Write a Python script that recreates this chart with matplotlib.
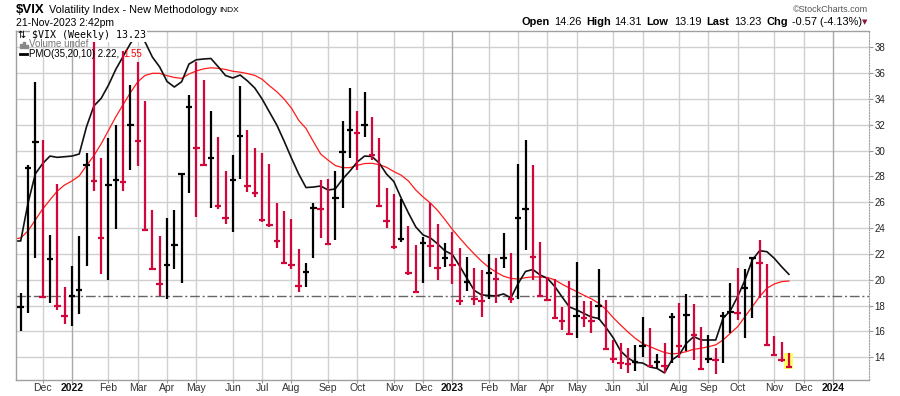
import numpy as np
import pandas as pd
import matplotlib
matplotlib.use("Agg")
import matplotlib.pyplot as plt
import matplotlib.dates as mdates
from matplotlib.patches import Rectangle
from matplotlib.lines import Line2D

plt.rcParams['font.family'] = ['Liberation Sans', 'DejaVu Sans']

# -------- data --------
BAR_START = "2021-11-15"     # Monday of the first weekly bar
PMO_START = "2021-11-08"     # PMO lines start one week earlier (clipped at left edge)

highs = [19.0, 28.9, 35.3, 30.8, 23.5, 27.4, 19.4, 21.1, 23.4, 29.8,
         38.9, 29.45, 31.0, 32.0, 37.7, 35.1, 36.9, 33.85, 25.4, 23.4,
         24.76, 25.4, 28.3, 34.3, 36.9, 35.47, 33.07, 31.08, 28.4, 29.66,
         35.0, 31.6, 30.18, 29.8, 29.0, 25.92, 25.32, 24.7, 22.38, 21.27,
         25.92, 27.73, 27.78, 28.4, 32.32, 34.83, 33.07, 34.54, 32.58, 30.95,
         27.08, 26.62, 26.23, 24.16, 22.69, 23.33, 25.92, 24.29, 22.82, 23.72,
         22.43, 21.74, 20.89, 20.75, 21.97, 21.66, 23.6, 22.05, 28.97, 30.82,
         28.89, 22.95, 20.24, 20.03, 17.87, 19.9, 21.35, 18.35, 18.35, 20.83,
         18.43, 15.33, 15.08, 14.69, 14.95, 17.14, 16.24, 14.25, 15.08, 17.45,
         18.17, 18.9, 18.1, 16.37, 15.72, 14.69, 17.53, 19.72, 20.89, 20.81,
         21.79, 23.08, 21.19, 15.64, 15.2, 14.31]

lows = [16.05, 17.4, 21.7, 18.6, 18.2, 17.66, 16.6, 16.4, 17.35, 21.1,
        26.9, 20.44, 20.0, 23.9, 26.9, 28.5, 28.8, 23.8, 20.75, 18.7,
        18.48, 20.86, 19.77, 26.74, 24.88, 28.8, 25.53, 25.5, 24.32, 23.72,
        27.78, 26.82, 26.43, 24.5, 24.11, 22.43, 21.22, 20.83, 19.07, 19.41,
        21.66, 23.21, 22.69, 23.08, 25.53, 29.4, 28.5, 31.08, 29.28, 25.7,
        23.98, 22.38, 22.95, 20.37, 18.95, 19.77, 21.01, 19.98, 20.96, 19.7,
        18.04, 19.15, 18.04, 17.09, 18.48, 18.17, 20.89, 18.22, 18.48, 22.3,
        19.98, 18.69, 18.38, 17.09, 16.11, 15.77, 15.51, 16.36, 15.85, 16.88,
        14.56, 13.57, 13.09, 12.75, 12.95, 14.04, 13.27, 13.14, 12.75, 13.57,
        13.91, 14.48, 13.78, 13.06, 13.57, 12.7, 13.57, 15.85, 16.88, 15.46,
        17.0, 18.61, 14.89, 14.1, 13.65, 13.19]

closes = [17.91, 28.62, 30.67, 18.69, 21.57, 17.96, 17.22, 18.76, 19.19, 28.85,
          27.66, 23.22, 27.36, 27.75, 27.59, 31.98, 30.75, 23.87, 20.81, 19.63,
          21.16, 22.70, 28.21, 33.40, 30.19, 28.87, 29.43, 25.72, 24.79, 27.75,
          31.13, 27.23, 26.70, 24.64, 24.23, 23.03, 21.33, 21.15, 19.53, 20.60,
          25.56, 25.47, 22.79, 26.30, 29.92, 31.62, 31.36, 32.02, 29.69, 25.75,
          24.55, 22.52, 23.12, 20.50, 19.06, 22.83, 22.62, 20.87, 21.67, 21.13,
          18.35, 19.85, 18.51, 18.33, 20.53, 20.02, 21.67, 18.49, 24.80, 25.51,
          21.74, 18.70, 18.40, 17.07, 16.77, 15.78, 17.19, 17.03, 16.81, 17.95,
          14.60, 13.83, 13.54, 13.44, 13.59, 14.83, 13.34, 13.60, 13.33, 17.10,
          14.84, 17.30, 15.68, 13.09, 13.84, 13.79, 17.20, 17.52, 17.45, 19.32,
          21.71, 21.27, 14.91, 14.17, 13.80, 13.23]
prev_close = 16.29   # close of the week before the first bar

# PMO(35,20,10) and its signal, as they sit on the price scale
pmo_line = [23.0, 23.0, 25.94, 28.2, 29.0, 29.58, 29.48, 29.53, 29.58, 29.74,
            31.86, 33.46, 34.05, 35.08, 36.3, 37.3, 38.3, 39.1, 38.42, 37.25,
            36.48, 35.36, 34.93, 35.34, 36.71, 37.04, 37.1, 37.14, 36.5, 35.82,
            35.63, 35.86, 35.4, 34.85, 34.0, 32.99, 31.99, 30.75, 29.43, 28.19,
            27.14, 27.18, 27.26, 26.95, 27.03, 27.8, 28.42, 29.12, 29.58, 29.55,
            29.04, 28.19, 27.61, 26.33, 25.17, 24.09, 23.47, 23.24, 22.77, 22.23,
            21.96, 21.06, 20.1, 19.17, 18.82, 18.78, 18.74, 18.9, 18.59, 19.71,
            20.64, 20.79, 20.37, 20.1, 19.48, 18.66, 17.89, 17.66, 17.38, 17.11,
            17.0, 16.3, 15.49, 14.48, 13.94, 13.59, 13.55, 13.24, 13.12, 12.78,
            13.78, 14.17, 15.08, 15.59, 15.33, 15.33, 15.33, 17.01, 17.6, 18.69,
            19.98, 21.53, 22.25, 22.17, 21.66, 21.01, 20.42]

pmo_signal = [23.15, 23.23, 23.78, 24.63, 25.48, 26.18, 26.87, 27.34, 27.65, 28.04,
              28.85, 29.61, 30.53, 31.57, 32.62, 33.57, 34.5, 35.33, 35.83, 35.99,
              35.99, 35.81, 35.67, 35.6, 35.94, 36.17, 36.34, 36.42, 36.38, 36.29,
              36.15, 36.08, 35.97, 35.83, 35.53, 35.03, 34.57, 34.0, 33.3, 32.35,
              31.72, 30.71, 29.74, 29.27, 28.85, 28.68, 28.68, 28.86, 29.0, 29.02,
              28.92, 28.71, 28.38, 28.1, 27.65, 26.95, 26.41, 25.94, 25.36, 24.65,
              23.9, 23.23, 22.59, 21.99, 21.43, 20.95, 20.58, 20.27, 20.1, 20.05,
              20.16, 20.22, 20.21, 20.17, 19.99, 19.65, 19.36, 19.08, 18.79, 18.52,
              18.18, 17.7, 17.05, 16.49, 15.95, 15.46, 15.06, 14.82, 14.58, 14.36,
              14.25, 14.3, 14.43, 14.61, 14.69, 14.81, 14.95, 15.33, 15.85, 16.36,
              17.14, 17.91, 18.69, 19.34, 19.67, 19.85, 19.9]

hline_level = 18.75
y_ticks = list(range(14, 40, 2))
month_labels = ["Dec", "2022", "Feb", "Mar", "Apr", "May", "Jun", "Jul", "Aug",
                "Sep", "Oct", "Nov", "Dec", "2023", "Feb", "Mar", "Apr", "May",
                "Jun", "Jul", "Aug", "Sep", "Oct", "Nov", "Dec", "2024"]
# -----------------------------------------

W, H = 900, 396
UP, DOWN = "#000000", "#d1063a"


def fx(px):
    return px / W


def fy(py):
    return 1 - py / H


bar_dates = pd.date_range(BAR_START, periods=len(closes), freq="7D")
pmo_dates = pd.date_range(PMO_START, periods=len(pmo_line), freq="7D")
xb = mdates.date2num(bar_dates.to_pydatetime())
xp = mdates.date2num(pmo_dates.to_pydatetime())

c = np.array(closes)
prev = np.concatenate([[prev_close], c[:-1]])
colors = [UP if cc >= pc else DOWN for cc, pc in zip(c, prev)]

# gridlines sit on the first weekly bar of every month
month_pos = []
for m in pd.date_range("2021-12-01", "2024-01-01", freq="MS"):
    month_pos.append(xb[0] + 7 * np.ceil((mdates.date2num(m) - xb[0]) / 7))

fig = plt.figure(figsize=(W / 100, H / 100), dpi=100)
ax = fig.add_axes([fx(16), fy(380), (868.5 - 16) / W, (380 - 31) / H])

px_per_day = 7.316 / 7
ax.set_xlim(xb[0] - 4.7 / px_per_day, xb[0] + 847.8 / px_per_day)
ax.set_ylim(12.23, 39.27)

for yv in y_ticks:
    ax.axhline(yv, color="#d0d0d0", lw=1, zorder=0)
for pos, lab in zip(month_pos, month_labels):
    ax.axvline(pos, color="#a9a9a9" if lab.isdigit() else "#d0d0d0", lw=1, zorder=0)

ax.axhline(hline_level, color="#666666", lw=1, dashes=(7, 2, 1.5, 2), zorder=1)

# yellow box on the current bar
ax.add_patch(Rectangle((xb[-1] - 4.3, 13.09), 8.6, 14.35 - 13.09,
                       facecolor="#ffff66", edgecolor="none", zorder=1))

ax.plot(xp, pmo_signal, color="#ff1a1a", lw=0.9, zorder=2)
ax.plot(xp, pmo_line, color="#111111", lw=1.2, zorder=2)

ax.vlines(xb, lows, highs, colors=colors, lw=1.6, zorder=3)
ax.hlines(c, xb - 3.1, xb + 3.1, colors=colors, lw=1.6, zorder=3)

ax.yaxis.tick_right()
ax.set_yticks(y_ticks)
ax.tick_params(axis="y", labelsize=7, colors="#999999", labelcolor="#222222",
               length=3, pad=1.5)
ax.set_xticks(month_pos)
ax.set_xticklabels(month_labels)
ax.tick_params(axis="x", labelsize=7.5, colors="#999999", labelcolor="#333333",
               length=2, pad=0)
for t in ax.get_xticklabels():
    if t.get_text().isdigit():
        t.set_fontweight("bold")
        t.set_color("#111111")

for s in ["left", "bottom", "top"]:
    ax.spines[s].set_color("#a0a0a0")
    ax.spines[s].set_linewidth(1)
ax.spines["right"].set_color("#a0a0a0")
ax.spines["right"].set_linestyle((0, (1, 1.5)))

# header
fig.text(fx(16), fy(10), "$VIX", fontsize=9.5, fontweight="bold", va="center")
fig.text(fx(49), fy(10), "Volatility Index - New Methodology", fontsize=7.8, va="center")
fig.text(fx(219), fy(10.5), "INDX", fontsize=6, va="center")
fig.text(fx(16), fy(23.5), "21-Nov-2023 2:42pm", fontsize=7.5, va="center")
fig.text(fx(868), fy(9.5), "\u00a9StockCharts.com", fontsize=6.5, color="#555555",
         ha="right", va="center")

quote = [(521.7, "Open", True), (554.3, "14.26", False), (586, "High", True),
         (614.3, "14.31", False), (646.7, "Low", True), (674.3, "13.19", False),
         (706.7, "Last", True), (734.3, "13.23", False), (766.7, "Chg", True),
         (791.7, "-0.57 (-4.13%)", False)]
for xq, txt, bold in quote:
    fig.text(fx(xq), fy(22), txt, fontsize=7.9, va="center",
             fontweight="bold" if bold else "normal")
fig.text(fx(864.5), fy(22.5), "\u25bc", fontsize=5, color="#8b1538",
         ha="center", va="center", family=["DejaVu Sans"])

# in-chart legend
fig.text(fx(17.5), fy(35.2), "\u21c5", fontsize=7, va="center", family=["DejaVu Sans"])
fig.text(fx(31.7), fy(35.2), "$VIX (Weekly) 13.23", fontsize=7.2, va="center",
         family=["DejaVu Sans Mono"],
         bbox=dict(facecolor="white", edgecolor="none", pad=1.2))
for x0, h in [(19.5, 4), (22.5, 6), (25.5, 3)]:
    fig.add_artist(Rectangle((fx(x0), fy(47.5)), 2 / W, h / H,
                             transform=fig.transFigure, color="#888888"))
fig.text(fx(29.3), fy(44.2), "Volume undef", fontsize=7, color="#777777", va="center")
fig.add_artist(Line2D([fx(19.5), fx(27)], [fy(54.2), fy(54.2)],
                      transform=fig.transFigure, color="black", lw=2))
fig.text(fx(29.3), fy(54.2), "PMO(35,20,10) 2.22, ", fontsize=7, va="center")
fig.text(fx(123.5), fy(54.2), "1.55", fontsize=7, va="center", color="#ff0000")

fig.savefig("out.png", dpi=100)
